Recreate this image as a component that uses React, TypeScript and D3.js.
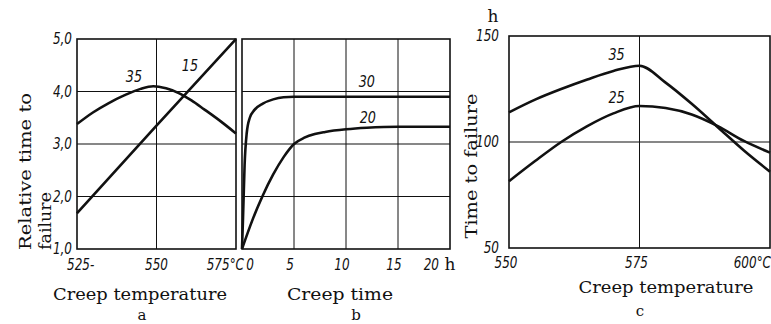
import React, { useRef, useEffect } from "react";
import * as d3 from "d3";

// panel a: relative time to failure vs creep temperature
const tempTicksA = [525, 550, 575];
const tempLabelsA = ["525-", "550", "575°C"];
const relTicks = [1, 2, 3, 4, 5];
const relLabels = ["1,0", "2,0", "3,0", "4,0", "5,0"];
const curveA35: [number, number][] = [
  [525, 3.38], [530, 3.6], [535, 3.78], [540, 3.93], [545, 4.05], [549, 4.1],
  [553, 4.06], [557, 3.97], [561, 3.83], [565, 3.66], [570, 3.44], [575, 3.2],
];
const curveA15: [number, number][] = [[525, 1.68], [550, 3.35], [575, 5.0]];

// panel b: relative time to failure vs creep time
const timeTicks = [0, 5, 10, 15, 20];
const timeLabels = ["0", "5", "10", "15", "20"];
const curveB30: [number, number][] = [
  [0, 1.0], [0.1, 1.6], [0.25, 2.6], [0.45, 3.2], [0.75, 3.5], [1.2, 3.65],
  [2, 3.77], [3, 3.85], [4, 3.89], [5, 3.9], [10, 3.9], [20, 3.9],
];
const curveB20: [number, number][] = [
  [0, 1.0], [1, 1.55], [2, 2.02], [3, 2.42], [4, 2.75], [5, 3.0], [6, 3.12],
  [7, 3.19], [8, 3.23], [10, 3.28], [12, 3.31], [15, 3.33], [20, 3.33],
];

// panel c: time to failure (h) vs creep temperature
const tempTicksC = [550, 575, 600];
const tempLabelsC = ["550", "575", "600°C"];
const hourTicks = [50, 100, 150];
const hourLabels = ["50", "100", "150"];
const curveC35: [number, number][] = [
  [550, 114], [555, 120], [560, 125], [565, 129.5], [570, 133.5], [575, 136],
  [580, 128], [585, 118], [590, 107], [595, 96], [600, 86],
];
const curveC25: [number, number][] = [
  [550, 81.5], [555, 91], [560, 100], [565, 107.5], [570, 113.5], [575, 117],
  [580, 116], [585, 113], [590, 107.5], [595, 100.5], [600, 95],
];

const serif = "'DejaVu Serif', serif";
const tickFont = "'DejaVu Sans', sans-serif";

export default function App() {
  const svgRef = useRef<SVGSVGElement>(null);

  useEffect(() => {
    const svg = d3.select(svgRef.current);
    svg.selectAll("*").remove();

    const yRel = d3.scaleLinear().domain([1, 5]).range([249, 39]);
    const xA = d3.scaleLinear().domain([525, 575]).range([77, 236]);
    const xB = d3.scaleLinear().domain([0, 20]).range([242, 450]);
    const xC = d3.scaleLinear().domain([550, 600]).range([509, 770]);
    const yC = d3.scaleLinear().domain([50, 150]).range([248, 36]);

    const ink = "#111";

    const frame = (x: any, y: any, xGrid: number[], yGrid: number[]) => {
      const [x0, x1] = x.range();
      const [y0, y1] = y.range();
      xGrid.forEach(v => {
        svg.append("line")
          .attr("x1", x(v)).attr("x2", x(v)).attr("y1", y0).attr("y2", y1)
          .attr("stroke", ink).attr("stroke-width", 1);
      });
      yGrid.forEach(v => {
        svg.append("line")
          .attr("x1", x0).attr("x2", x1).attr("y1", y(v)).attr("y2", y(v))
          .attr("stroke", ink).attr("stroke-width", 1.2);
      });
      svg.append("rect")
        .attr("x", x0).attr("y", y1)
        .attr("width", x1 - x0).attr("height", y0 - y1)
        .attr("fill", "none").attr("stroke", ink).attr("stroke-width", 1.6);
    };

    frame(xA, yRel, [550], [2, 3, 4]);
    frame(xB, yRel, [5, 10, 15], [2, 3, 4]);
    frame(xC, yC, [575], [100]);

    const drawCurve = (data: [number, number][], x: any, y: any) => {
      const line = d3.line<[number, number]>()
        .x(d => x(d[0]))
        .y(d => y(d[1]))
        .curve(d3.curveMonotoneX);
      svg.append("path")
        .datum(data)
        .attr("fill", "none")
        .attr("stroke", ink)
        .attr("stroke-width", 2.6)
        .attr("stroke-linejoin", "round")
        .attr("d", line);
    };

    drawCurve(curveA35, xA, yRel);
    drawCurve(curveA15, xA, yRel);
    drawCurve(curveB30, xB, yRel);
    drawCurve(curveB20, xB, yRel);
    drawCurve(curveC35, xC, yC);
    drawCurve(curveC25, xC, yC);

    // narrow italic digits, squeezed horizontally like the print
    const tickText = (x: number, y: number, s: string, anchor = "middle", size = 15) =>
      svg.append("text")
        .attr("transform", `translate(${x},${y}) scale(0.8,1)`)
        .attr("text-anchor", anchor)
        .attr("font-family", tickFont)
        .attr("font-style", "italic")
        .attr("font-size", size)
        .attr("fill", ink)
        .text(s);

    // y tick labels
    relTicks.forEach((v, i) => tickText(72, yRel(v) + 5, relLabels[i], "end"));
    hourTicks.forEach((v, i) => tickText(499, yC(v) + 5, hourLabels[i], "end"));

    // x tick labels
    tempTicksA.forEach((v, i) => {
      if (i === 0) tickText(xA(v) - 10, 270, tempLabelsA[i], "start");
      else if (i === tempTicksA.length - 1) tickText(xA(v) + 8, 270, tempLabelsA[i], "end");
      else tickText(xA(v), 270, tempLabelsA[i]);
    });
    timeTicks.forEach((v, i) => {
      if (i === 0) tickText(xB(v) + 8, 270, timeLabels[i]);
      else if (i === timeTicks.length - 1) tickText(xB(v) - 11, 270, timeLabels[i], "end");
      else tickText(xB(v) - 4, 270, timeLabels[i]);
    });
    tempTicksC.forEach((v, i) => {
      if (i === tempTicksC.length - 1) tickText(771, 268, tempLabelsC[i], "end");
      else tickText(xC(v) - 3, 268, tempLabelsC[i]);
    });

    // curve labels
    tickText(xA(542.9), yRel(4.18), "35", "middle", 16);
    tickText(xA(560.5), yRel(4.39), "15", "middle", 16);
    tickText(xB(12), yRel(4.09), "30", "middle", 16);
    tickText(xB(12.1), yRel(3.4), "20", "middle", 16);
    tickText(xC(570.6), yC(138.7), "35", "middle", 16);
    tickText(xC(570.6), yC(118.4), "25", "middle", 16);

    const serifText = (x: number, y: number, s: string, anchor = "middle", len = 0, rotate = false, size = 17) => {
      const t = svg.append("text")
        .attr("text-anchor", anchor)
        .attr("font-family", serif)
        .attr("font-size", size)
        .attr("fill", ink)
        .text(s);
      if (len) t.attr("textLength", len).attr("lengthAdjust", "spacingAndGlyphs");
      if (rotate) t.attr("transform", `translate(${x},${y}) rotate(-90)`);
      else t.attr("x", x).attr("y", y);
      return t;
    };

    // units
    serifText(450, 270, "h");
    serifText(493, 22, "h");

    // axis titles
    serifText(31, 250, "Relative time to", "start", 157, true);
    serifText(51, 250, "failure", "start", 58, true);
    serifText(477, 166, "Time to failure", "middle", 145, true);
    serifText(140, 300, "Creep temperature", "middle", 174);
    serifText(340, 300, "Creep time", "middle", 106);
    serifText(666, 293, "Creep temperature", "middle", 175);

    // panel letters
    serifText(142, 320, "a", "middle", 0, false, 15);
    serifText(356, 320, "b", "middle", 0, false, 15);
    serifText(640, 316, "c", "middle", 0, false, 15);
  }, []);

  return (
    <svg
      ref={svgRef}
      width={771}
      height={324}
      style={{ position: "absolute", left: 0, top: 0, background: "#fff" }}
    />
  );
}
